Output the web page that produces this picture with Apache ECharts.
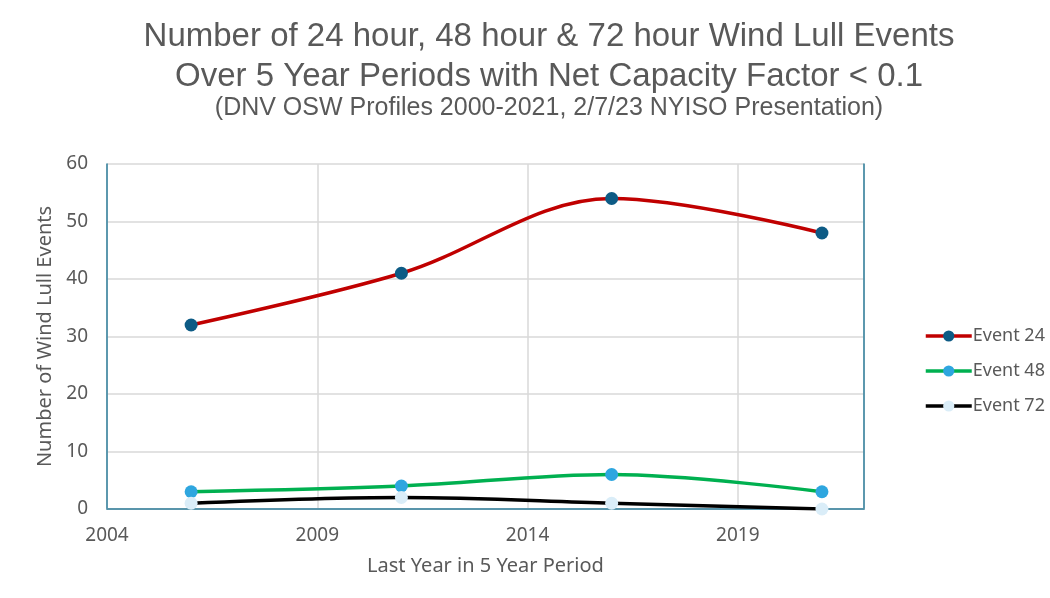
<!DOCTYPE html>
<html>
<head>
<meta charset="utf-8">
<script src="https://cdn.jsdelivr.net/npm/echarts@6/dist/echarts.min.js"></script>
<style>
  html, body { margin: 0; padding: 0; background: #fff; }
  #chart { width: 1050px; height: 598px; }
</style>
</head>
<body>
<div id="chart"></div>
<script>
// data
const years = [2006, 2011, 2016, 2021];
const event24 = [32, 41, 54, 48];
const event48 = [3, 4, 6, 3];
const event72 = [1, 2, 1, 0];
const seriesNames = ["Event 24", "Event 48", "Event 72"];

const grayText = "#595959";
const titleFont = "'Liberation Sans', sans-serif";
const tickFont = "'Noto Sans', sans-serif";
const frame = "#2f7f9c";

const chart = echarts.init(document.getElementById("chart"));

const mkSeries = (name, vals, lineColor, dotColor) => ({
  name: name,
  type: "line",
  smooth: 0.35,
  symbol: "circle",
  symbolSize: 13,
  data: years.map((y, i) => [y, vals[i]]),
  lineStyle: { color: lineColor, width: 3.5 },
  itemStyle: { color: dotColor },
  emphasis: { disabled: true },
});

// plain axis used only to draw the teal frame on top / right
const frameX = {
  type: "value", min: 2004, max: 2022, position: "top",
  axisLine: { show: true, lineStyle: { color: frame, width: 1.5 } },
  axisTick: { show: false }, axisLabel: { show: false }, splitLine: { show: false },
};
const frameY = {
  type: "value", min: 0, max: 60, position: "right",
  axisLine: { show: true, lineStyle: { color: frame, width: 1.5 } },
  axisTick: { show: false }, axisLabel: { show: false }, splitLine: { show: false },
};

const option = {
  animation: false,
  backgroundColor: "#fff",
  title: [
    {
      text: "Number of 24 hour, 48 hour & 72 hour Wind Lull Events\nOver 5 Year Periods with Net Capacity Factor < 0.1",
      left: 544,
      top: 12,
      textAlign: "center",
      textStyle: {
        fontFamily: titleFont,
        fontSize: 33,
        fontWeight: "normal",
        color: grayText,
        lineHeight: 40,
      },
    },
    {
      text: "(DNV OSW Profiles 2000-2021, 2/7/23 NYISO Presentation)",
      left: 544,
      top: 91,
      textAlign: "center",
      textStyle: {
        fontFamily: titleFont,
        fontSize: 25,
        fontWeight: "normal",
        color: grayText,
      },
    },
  ],
  legend: {
    orient: "vertical",
    left: 919,
    top: 322,
    itemGap: 17,
    itemWidth: 46,
    itemHeight: 14,
    data: seriesNames,
    lineStyle: { width: 3.5 },
    textStyle: { fontFamily: tickFont, fontSize: 18, color: grayText, padding: [0, 0, 0, -4] },
  },
  grid: {
    left: 107,
    right: 186,
    top: 164,
    bottom: 89,
  },
  xAxis: [
    {
      type: "value",
      min: 2004,
      max: 2022,
      interval: 5,
      name: "Last Year in 5 Year Period",
      nameLocation: "middle",
      nameGap: 47,
      nameTextStyle: { fontFamily: tickFont, fontSize: 20, color: grayText },
      axisLine: { show: true, lineStyle: { color: "#d9d9d9", width: 1.5 } },
      axisTick: { show: false },
      axisLabel: {
        fontFamily: tickFont,
        fontSize: 19,
        color: grayText,
        margin: 17,
        showMaxLabel: false,
        formatter: (v) => String(v),
      },
      splitLine: { show: true, lineStyle: { color: "#d9d9d9", width: 1.5 } },
    },
    frameX,
  ],
  yAxis: [
    {
      type: "value",
      min: 0,
      max: 60,
      interval: 10,
      name: "Number of Wind Lull Events",
      nameLocation: "middle",
      nameGap: 50,
      nameTextStyle: { fontFamily: tickFont, fontSize: 20, color: grayText },
      axisLine: { show: true, lineStyle: { color: frame, width: 1.5 } },
      axisTick: { show: false },
      axisLabel: { fontFamily: tickFont, fontSize: 19, color: grayText, margin: 19 },
      splitLine: { show: true, lineStyle: { color: "#d9d9d9", width: 1.5 } },
    },
    frameY,
  ],
  series: [
    mkSeries(seriesNames[0], event24, "#c00000", "#0d5b85"),
    mkSeries(seriesNames[1], event48, "#00b050", "#2ea6df"),
    mkSeries(seriesNames[2], event72, "#000000", "#daedf8"),
  ],
};

chart.setOption(option, true);
</script>
</body>
</html>
